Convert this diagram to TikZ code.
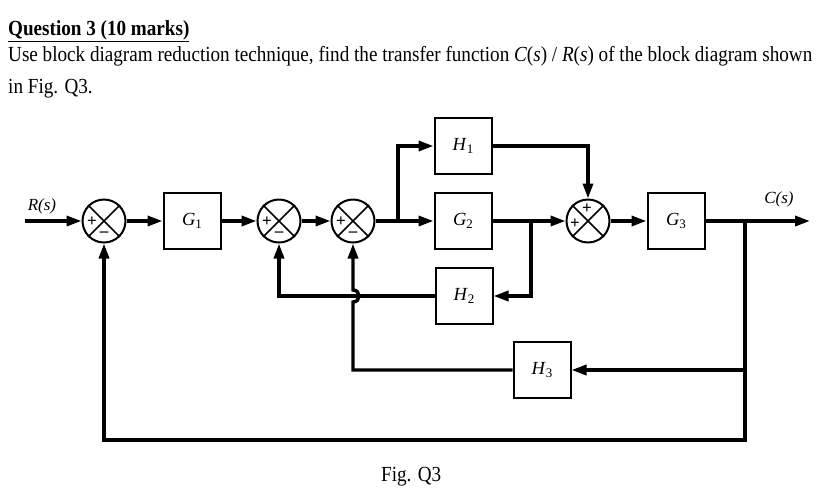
\documentclass[tikz,border=0pt]{standalone}
\usepackage{fontspec}
\setmainfont{Liberation Serif}
\usetikzlibrary{arrows.meta}
\newcommand{\lbl}[2]{\textit{#1}\raisebox{-0.3ex}{\fontsize{13}{13}\selectfont #2}}
\newcommand{\txt}[1]{\scalebox{0.89}[1]{#1}}
\begin{document}
\begin{tikzpicture}[x=1pt,y=-1pt,
  blk/.style={draw, line width=2pt, minimum width=57pt, minimum height=56pt, inner sep=0pt, font=\fontsize{18.5}{18.5}\selectfont},
  sumc/.style={draw, circle, line width=2pt, minimum size=43pt, inner sep=0pt},
  sgn/.style={font=\fontsize{17}{17}\selectfont\bfseries, inner sep=0pt},
  ln/.style={line width=3.4pt},
  sig/.style={line width=3.4pt, -{Triangle[length=15pt,width=10pt]}},
  xline/.style={line width=1.6pt},
  body/.style={anchor=base west, inner sep=0pt, font=\fontsize{21.5}{21.5}\selectfont},
  io/.style={inner sep=0pt, font=\fontsize{17}{17}\selectfont\itshape}
]
\useasboundingbox (0,0) rectangle (828,491);
% texts
\node[body] (title) at (8,35) {\txt{\textbf{\underline{Question 3 (10 marks)}}}};
\node[body] (line1) at (8,61) {\txt{Use block diagram reduction technique, find the transfer function \textit{C}(\textit{s}) / \textit{R}(\textit{s}) of the block diagram shown}};
\node[body] (line2) at (8,93) {\txt{in Fig. Q3.}};
\node[body] (fig) at (381,481) {\txt{Fig. Q3}};

% summing junctions
\node[sumc] (s1) at (104,221) {};
\node[sumc] (s2) at (279,221) {};
\node[sumc] (s3) at (353,221) {};
\node[sumc] (s4) at (588,221) {};
\foreach \s in {s1,s2,s3,s4}{
  \draw[xline] (\s.north west) -- (\s.south east);
  \draw[xline] (\s.north east) -- (\s.south west);
}
\foreach \s in {s1,s2,s3}{
  \node[sgn] at ([shift={(-12,1)}]\s.center) {+};
  \node[sgn] at ([shift={(0,13)}]\s.center) {–};
}
\node[sgn] at ([shift={(-1,-12)}]s4.center) {+};
\node[sgn] at ([shift={(-13,3)}]s4.center) {+};

% blocks
\node[blk] (g1) at (192,221) {\lbl{G}{1}};
\node[blk] (h1) at (463,146) {\lbl{H}{1}};
\node[blk] (g2) at (463,221) {\lbl{G}{2}};
\node[blk] (h2) at (464,296) {\lbl{H}{2}};
\node[blk] (g3) at (676,221) {\lbl{G}{3}};
\node[blk] (h3) at (542,370) {\lbl{H}{3}};

% io labels
\node[io] (rl) at (42,206) {R(s)};
\node[io] (cl) at (779,199) {C(s)};

% coordinates
\coordinate (rin) at (25,221);
\coordinate (br1) at (398,221);
\coordinate (br2) at (531,221);
\coordinate (br3) at (745,221);
\coordinate (cout) at (810,221);
\coordinate (bc) at (745,440);
\coordinate (j1) at (353,370);
\coordinate (j2) at (353,302);
\coordinate (j3) at (353,290);

% connectors
\draw[sig] (rin) -- (s1);
\draw[sig] (s1) -- (g1);
\draw[sig] (g1) -- (s2);
\draw[sig] (s2) -- (s3);
\draw[ln] (s3) -- (br1);
\draw[sig] (br1) -- (g2);
\draw[sig] (br1) |- (h1);
\draw[ln] (g2) -- (br2);
\draw[sig] (br2) -- (s4);
\draw[sig] (br2) |- (h2);
\draw[sig] (h1) -| (s4);
\draw[sig] (s4) -- (g3);
\draw[sig] (g3) -- (cout);
\draw[sig] (br3) |- (h3);
\draw[sig] (br3) -- (bc) -| (s1);
\draw[sig] (h2) -| (s2);
\draw[sig] (h3) -- (j1) -- (j2) .. controls (361,302) and (361,290) .. (j3) -- (s3);
\end{tikzpicture}
\end{document}
